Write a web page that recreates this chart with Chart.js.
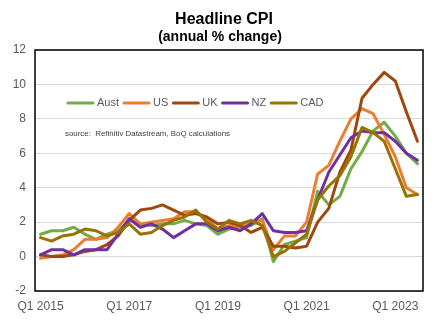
<!DOCTYPE html>
<html>
<head>
<meta charset="utf-8">
<script src="https://cdn.jsdelivr.net/npm/chart.js@4.4.0/dist/chart.umd.min.js"></script>
<style>
  html, body { margin: 0; padding: 0; background: #fff; }
  #wrap { width: 447px; height: 324px; }
</style>
</head>
<body>
<div id="wrap"><canvas id="cpiChart" width="447" height="324"></canvas></div>
<script>
const quarters = [
  'Q1 2015', 'Q2 2015', 'Q3 2015', 'Q4 2015',
  'Q1 2016', 'Q2 2016', 'Q3 2016', 'Q4 2016',
  'Q1 2017', 'Q2 2017', 'Q3 2017', 'Q4 2017',
  'Q1 2018', 'Q2 2018', 'Q3 2018', 'Q4 2018',
  'Q1 2019', 'Q2 2019', 'Q3 2019', 'Q4 2019',
  'Q1 2020', 'Q2 2020', 'Q3 2020', 'Q4 2020',
  'Q1 2021', 'Q2 2021', 'Q3 2021', 'Q4 2021',
  'Q1 2022', 'Q2 2022', 'Q3 2022', 'Q4 2022',
  'Q1 2023', 'Q2 2023', 'Q3 2023'
];
const shownQuarters = ['Q1 2015', 'Q1 2017', 'Q1 2019', 'Q1 2021', 'Q1 2023'];

const aust = [1.3, 1.5, 1.5, 1.7, 1.3, 1.0, 1.3, 1.5, 2.1, 1.9, 1.8, 1.9, 1.9, 2.1, 1.9, 1.8, 1.3, 1.6, 1.7, 1.8, 2.2, -0.3, 0.7, 0.9, 1.1, 3.8, 3.0, 3.5, 5.1, 6.1, 7.3, 7.8, 7.0, 6.0, 5.4];
const us   = [-0.1, 0.0, 0.1, 0.4, 1.0, 1.0, 1.1, 1.7, 2.5, 1.9, 2.0, 2.1, 2.2, 2.6, 2.6, 2.2, 1.6, 1.8, 1.8, 2.0, 2.1, 0.4, 1.2, 1.2, 2.0, 4.8, 5.3, 6.7, 8.0, 8.6, 8.3, 7.1, 5.8, 4.0, 3.6];
const uk   = [0.1, 0.0, 0.0, 0.1, 0.3, 0.4, 0.7, 1.2, 2.1, 2.7, 2.8, 3.0, 2.7, 2.4, 2.5, 2.3, 1.9, 2.0, 1.8, 1.4, 1.7, 0.6, 0.6, 0.5, 0.6, 2.0, 2.8, 4.9, 6.2, 9.2, 10.0, 10.7, 10.2, 8.4, 6.7];
const nz   = [0.1, 0.4, 0.4, 0.1, 0.4, 0.4, 0.4, 1.3, 2.2, 1.7, 1.9, 1.6, 1.1, 1.5, 1.9, 1.9, 1.5, 1.7, 1.5, 1.9, 2.5, 1.5, 1.4, 1.4, 1.5, 3.3, 4.9, 5.9, 6.9, 7.3, 7.2, 7.2, 6.7, 6.0, 5.6];
const cad  = [1.1, 0.9, 1.2, 1.3, 1.6, 1.5, 1.2, 1.4, 1.9, 1.3, 1.4, 1.8, 2.1, 2.3, 2.7, 2.0, 1.6, 2.1, 1.9, 2.1, 1.8, 0.0, 0.3, 0.8, 1.3, 3.3, 4.1, 4.7, 5.8, 7.5, 7.2, 6.7, 5.1, 3.5, 3.6];

const FONT = "'Liberation Sans', Arial, sans-serif";

function line(label, data, color, order) {
    return {
        label: label,
        data: data,
        borderColor: color,
        backgroundColor: color,
        borderWidth: 3,
        pointRadius: 0,
        tension: 0,
        fill: false,
        borderJoinStyle: 'round',
        borderCapStyle: 'round',
        order: order
    };
}

// title, boxed plot area, legend inside the plot and the source note
const decor = {
    id: 'decor',
    afterDatasetsDraw(chart) {
        const { ctx, chartArea: a } = chart;
        ctx.save();
        ctx.strokeStyle = '#000';
        ctx.lineWidth = 1.5;
        ctx.strokeRect(a.left, a.top, a.right - a.left, a.bottom - a.top);
        ctx.restore();
    },
    afterDraw(chart) {
        const { ctx, chartArea: a } = chart;
        ctx.save();
        ctx.fillStyle = '#000';
        ctx.textAlign = 'center';
        ctx.textBaseline = 'middle';
        ctx.font = 'bold 16px ' + FONT;
        ctx.fillText('Headline CPI', 224, 20);
        ctx.font = 'bold 14px ' + FONT;
        ctx.fillText('(annual % change)', 220, 37);

        // legend
        let x = a.left + 32;
        const y = a.top + 53;
        ctx.font = '11px ' + FONT;
        ctx.textAlign = 'left';
        chart.data.datasets.forEach(ds => {
            ctx.strokeStyle = ds.borderColor;
            ctx.lineWidth = 3;
            ctx.lineCap = 'round';
            ctx.beginPath();
            ctx.moveTo(x + 1, y);
            ctx.lineTo(x + 26, y);
            ctx.stroke();
            ctx.fillStyle = '#595959';
            ctx.fillText(ds.label, x + 30, y);
            x += 30 + ctx.measureText(ds.label).width + 4;
        });

        ctx.font = '8px ' + FONT;
        ctx.fillStyle = '#404040';
        ctx.fillText('source:  Refinitiv Datastream, BoQ calculations', a.left + 30, a.top + 84, 165);
        ctx.restore();
    }
};

new Chart(document.getElementById('cpiChart'), {
    type: 'line',
    data: {
        labels: quarters,
        datasets: [
            line('Aust', aust, '#70ad47', 5),
            line('US', us, '#ed7d31', 4),
            line('UK', uk, '#9e480e', 3),
            line('NZ', nz, '#7030a0', 2),
            line('CAD', cad, '#997300', 1)
        ]
    },
    options: {
        responsive: false,
        animation: false,
        devicePixelRatio: 1,
        layout: { padding: { top: 50, right: 24, left: 0, bottom: 0 } },
        plugins: {
            legend: { display: false },
            tooltip: { enabled: false }
        },
        scales: {
            x: {
                type: 'category',
                offset: true,
                grid: { display: false, drawTicks: false },
                border: { display: false },
                ticks: {
                    autoSkip: false,
                    maxRotation: 0,
                    minRotation: 0,
                    padding: 8,
                    color: '#595959',
                    font: { family: FONT, size: 12 },
                    callback: function (val) {
                        const q = this.getLabelForValue(val);
                        return shownQuarters.includes(q) ? q : '';
                    }
                },
                afterFit: s => { s.height = 33; }
            },
            y: {
                min: -2,
                max: 12,
                grid: { color: '#d9d9d9', lineWidth: 1, drawTicks: false },
                border: { display: false },
                ticks: {
                    stepSize: 2,
                    padding: 9,
                    color: '#595959',
                    font: { family: FONT, size: 12 }
                },
                afterFit: s => { s.width = 35; }
            }
        }
    },
    plugins: [decor]
});
</script>
</body>
</html>
